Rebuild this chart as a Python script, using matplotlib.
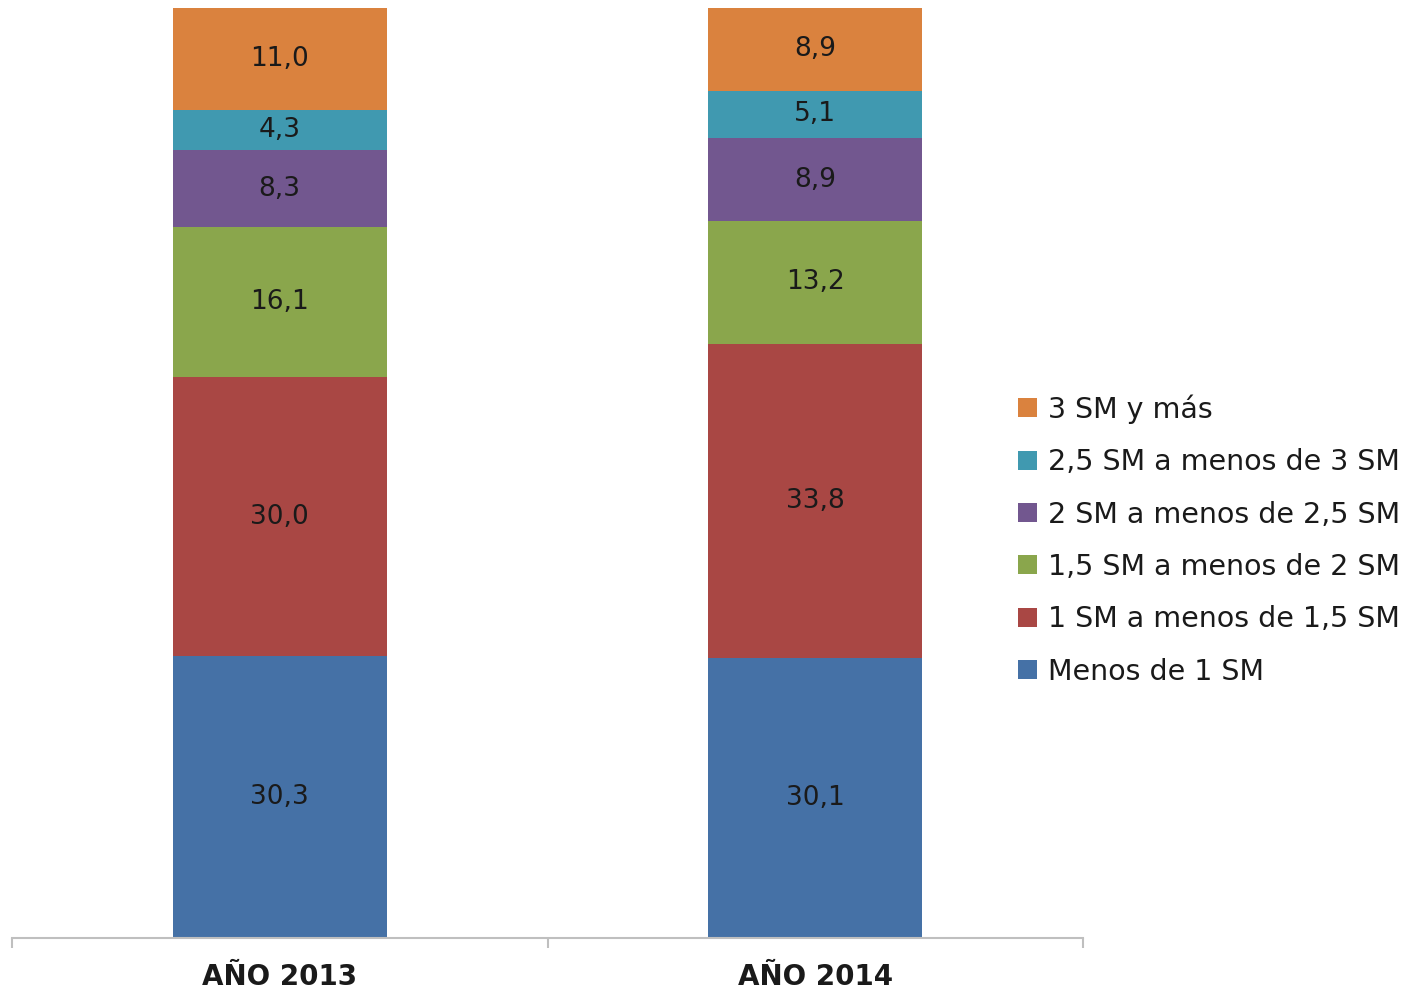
import matplotlib.pyplot as plt

# categorias (eje x) y series apiladas, de abajo hacia arriba
years = ['AÑO 2013', 'AÑO 2014']
series = ['Menos de 1 SM', '1 SM a menos de 1,5 SM', '1,5 SM a menos de 2 SM',
          '2 SM a menos de 2,5 SM', '2,5 SM a menos de 3 SM', '3 SM y más']
menos_1 = [30.3, 30.1]
de_1_a_15 = [30.0, 33.8]
de_15_a_2 = [16.1, 13.2]
de_2_a_25 = [8.3, 8.9]
de_25_a_3 = [4.3, 5.1]
tres_y_mas = [11.0, 8.9]
values = [menos_1, de_1_a_15, de_15_a_2, de_2_a_25, de_25_a_3, tres_y_mas]
colors = ['#4571A6', '#A94744', '#8AA64C', '#72578F', '#4099B0', '#DA823E']

fig = plt.figure(figsize=(14.27, 9.9), dpi=100)
ax = fig.add_axes([12 / 1427, 52 / 990, 1071 / 1427, 930 / 990])

x = [0.5, 1.5]
bottom = [0, 0]
for name, vals, col in zip(series, values, colors):
    ax.bar(x, vals, width=0.4, bottom=bottom, color=col, label=name)
    for xi, b, v in zip(x, bottom, vals):
        ax.text(xi, b + v / 2, f'{v:.1f}'.replace('.', ','), ha='center', va='center',
                fontsize=19, color='#1a1a1a')
    bottom = [b + v for b, v in zip(bottom, vals)]

ax.set_xlim(0, 2)
ax.set_ylim(0, 100)
for s in ['left', 'top', 'right']:
    ax.spines[s].set_visible(False)
ax.spines['bottom'].set_color('#BFBFBF')
ax.spines['bottom'].set_linewidth(1.5)
ax.set_yticks([])
ax.set_xticks([0, 1, 2])
ax.set_xticklabels([])
ax.tick_params(axis='x', which='major', length=7, width=1.5, color='#BFBFBF')
ax.set_xticks(x, minor=True)
ax.set_xticklabels(years, minor=True, fontsize=20, fontweight='bold', color='#1a1a1a')
ax.tick_params(axis='x', which='minor', length=0, pad=18)

handles, labels = ax.get_legend_handles_labels()
fig.legend(handles[::-1], labels[::-1], loc='center left',
           bbox_to_anchor=(1018 / 1427, 1 - 540 / 990), frameon=False,
           fontsize=20.5, handlelength=0.65, handleheight=0.65, handletextpad=0.4,
           labelspacing=0.86, borderpad=0, borderaxespad=0, labelcolor='#1a1a1a')

fig.savefig('out.png', dpi=100)
